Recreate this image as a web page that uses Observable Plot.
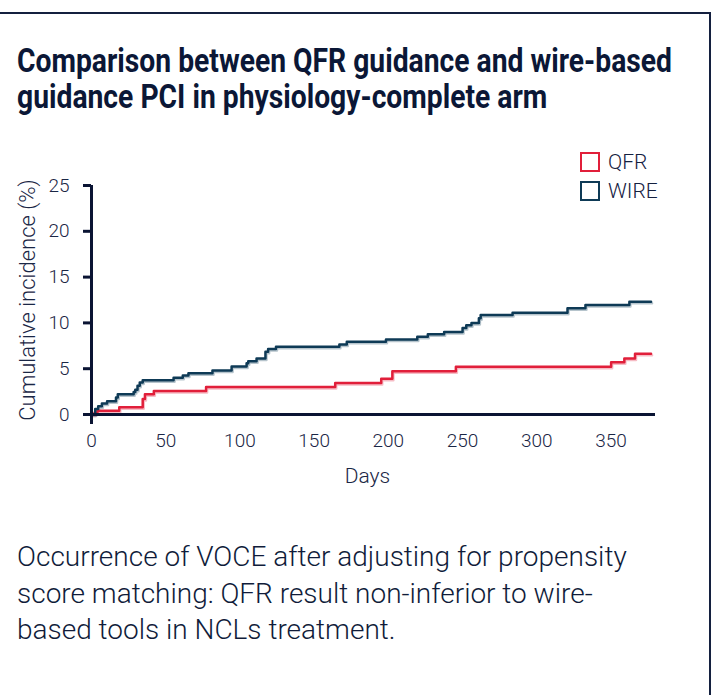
<!DOCTYPE html>
<html>
<head>
<meta charset="utf-8">
<script src="https://cdn.jsdelivr.net/npm/d3@7"></script>
<script src="https://cdn.jsdelivr.net/npm/@observablehq/plot@0.6"></script>
<style>
  html, body { margin: 0; padding: 0; background: #fff; }
  body { width: 723px; height: 695px; position: relative; overflow: hidden; font-family: Roboto, "Noto Sans", sans-serif; color: #0c1836; }
  #frame { position: absolute; left: -4px; top: 12px; width: 715px; height: 700px; border-top: 2px solid #14203f; border-right: 2px solid #14203f; box-sizing: border-box; }
  .fit { position: absolute; left: 17px; white-space: nowrap; transform-origin: 0 0; }
  #title { top: 43px; font-weight: 700; font-size: 33px; line-height: 36px; color: #0b1736; }
  #caption { top: 539px; font-weight: 300; font-size: 28px; line-height: 36.5px; color: #101c3a; }
  #chart { position: absolute; left: 0; top: 140px; }
  #legend { position: absolute; left: 580px; top: 152px; font-weight: 300; font-size: 21px; color: #14203f; }
  .li { display: flex; align-items: center; height: 20px; margin-bottom: 9px; }
  .sw { width: 20px; height: 20px; box-sizing: border-box; border: 2.5px solid; margin-right: 8px; }
</style>
</head>
<body>
<div id="frame"></div>
<div id="title" class="fit" data-w="655"><div>Comparison between QFR guidance and wire-based</div><div>guidance PCI in physiology-complete arm</div></div>
<div id="chart"></div>
<div id="legend"></div>
<div id="caption" class="fit" data-w="616"><div>Occurrence of VOCE after adjusting for propensity</div><div>score matching: QFR result non-inferior to wire-</div><div>based tools in NCLs treatment.</div></div>
<script>
// ---- data ----
const seriesNames = ["QFR", "WIRE"];
const seriesColors = ["#e11f3a", "#0e3a56"];

const qfrDays  = [0, 2, 4, 18.7, 34.5, 36, 42, 77.2, 164.2, 195.2, 202.7, 245.5, 350.1, 359, 366.2, 377];
const qfrValue = [0, 0.2, 0.4, 0.8, 1.7, 2.2, 2.57, 3.0, 3.45, 3.9, 4.72, 5.2, 5.7, 6.1, 6.62, 6.62];

const wireDays  = [0, 2.5, 4.5, 7, 10.5, 16.5, 17.7, 28.4, 29.5, 31, 32.5, 34.5, 55.3, 61.5, 65.3, 81.5, 94.4, 104.5, 105.6, 111.2, 117.2, 119, 124.3, 167, 172, 198.4, 219.5, 226.6, 237.6, 250, 252.5, 256, 261, 262.2, 283.7, 320.7, 332.8, 362.4, 377];
const wireValue = [0, 0.6, 0.9, 1.2, 1.45, 1.85, 2.2, 2.45, 2.7, 3.15, 3.5, 3.75, 4.0, 4.25, 4.5, 4.8, 5.25, 5.6, 5.8, 6.1, 6.85, 7.15, 7.4, 7.65, 7.95, 8.18, 8.5, 8.75, 9.0, 9.45, 9.75, 10.0, 10.5, 10.85, 11.1, 11.6, 11.95, 12.3, 12.3];

const xTicks = [0, 50, 100, 150, 200, 250, 300, 350];
const yTicks = [0, 5, 10, 15, 20, 25];
const xLabel = "Days";
const yLabel = "Cumulative incidence (%)";

// ---- build table ----
const rows = [
  ...qfrDays.map((d, i) => ({series: "QFR", day: d, value: qfrValue[i]})),
  ...wireDays.map((d, i) => ({series: "WIRE", day: d, value: wireValue[i]}))
];

const axisColor = "#0a1433";
const textColor = "#1a2645";

const chart = Plot.plot({
  width: 723,
  height: 354,
  marginTop: 45,
  marginLeft: 91,
  marginRight: 68,
  marginBottom: 80,
  x: {domain: [0, 380]},
  y: {domain: [0, 25]},
  color: {domain: seriesNames, range: seriesColors},
  style: {fontFamily: "Roboto, 'Noto Sans', sans-serif", fontWeight: 300, fontSize: "18px", color: textColor, background: "transparent", overflow: "visible"},
  marks: [
    Plot.axisY({ticks: yTicks, tickSize: 8, tickPadding: 14, strokeWidth: 3, stroke: axisColor, label: null, fontSize: 19}),
    Plot.axisX({ticks: xTicks, tickSize: 0, tickPadding: 19, label: null, fontSize: 19}),
    Plot.text([yLabel], {frameAnchor: "left", textAnchor: "middle", dx: -64, rotate: -90, fontSize: 22, fill: textColor}),
    Plot.text([xLabel], {frameAnchor: "bottom", dx: -6, dy: 68, fontSize: 21, fill: textColor}),
    Plot.line(rows, {x: "day", y: "value", z: "series", stroke: "series", curve: "step-after", strokeWidth: 2.5, strokeOpacity: 0.3, dx: 1, dy: 1.5}),
    Plot.line(rows, {x: "day", y: "value", z: "series", stroke: "series", curve: "step-after", strokeWidth: 2.5}),
    Plot.ruleY([0], {stroke: axisColor, strokeWidth: 3}),
    Plot.ruleX([0], {y1: 25, y2: 0, insetBottom: -10, stroke: axisColor, strokeWidth: 3})
  ]
});
document.getElementById("chart").appendChild(chart);

// legend
const legend = document.getElementById("legend");
seriesNames.forEach((name, i) => {
  const row = document.createElement("div");
  row.className = "li";
  const sw = document.createElement("div");
  sw.className = "sw";
  sw.style.borderColor = seriesColors[i];
  const t = document.createElement("span");
  t.textContent = name;
  row.appendChild(sw); row.appendChild(t);
  legend.appendChild(row);
});

// condense text blocks to the reference widths (no condensed font installed)
function fit() {
  document.querySelectorAll(".fit").forEach(el => {
    el.style.transform = "none";
    const first = el.firstElementChild;
    const r = document.createRange(); r.selectNodeContents(first);
    const w = r.getBoundingClientRect().width;
    const target = +el.dataset.w;
    if (w > 0) el.style.transform = `scaleX(${Math.min(1, target / w)})`;
  });
}
fit();
if (document.fonts && document.fonts.ready) document.fonts.ready.then(fit);
</script>
</body>
</html>
